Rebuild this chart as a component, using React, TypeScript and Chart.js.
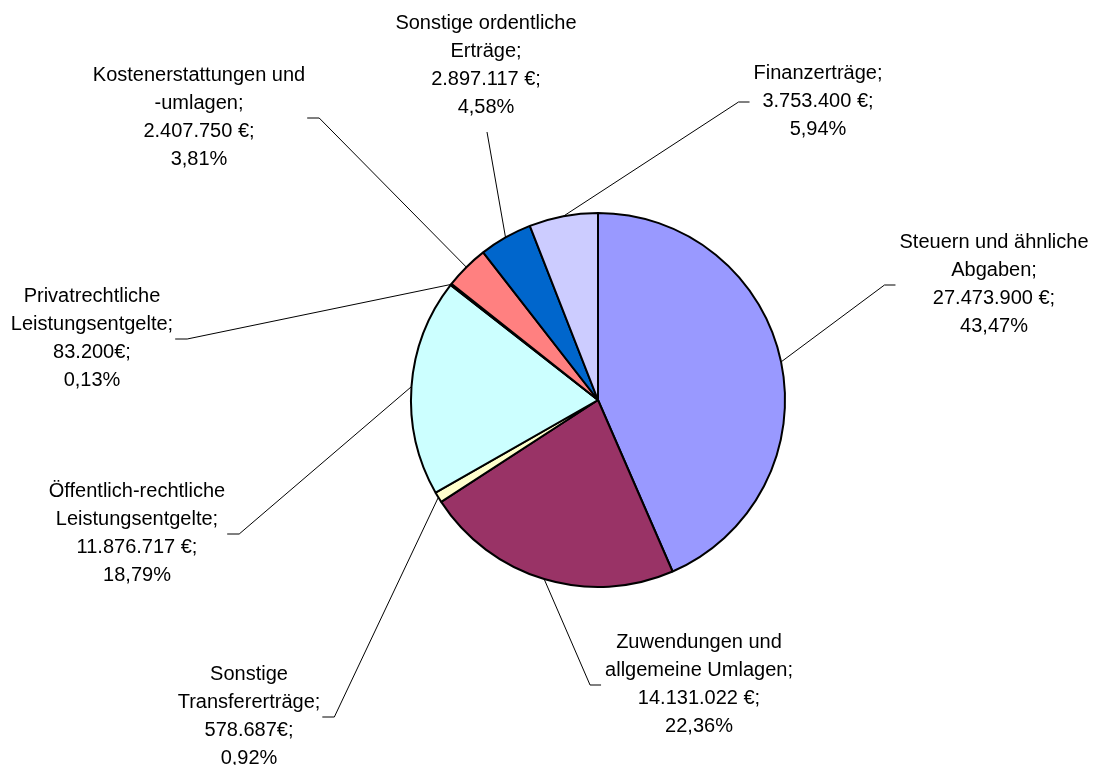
import React, { useEffect, useRef } from "react";
import { Chart, registerables } from "chart.js";

Chart.register(...registerables);

// ---- data ----
const categories = [
  "Steuern und ähnliche Abgaben",
  "Zuwendungen und allgemeine Umlagen",
  "Sonstige Transfererträge",
  "Öffentlich-rechtliche Leistungsentgelte",
  "Privatrechtliche Leistungsentgelte",
  "Kostenerstattungen und -umlagen",
  "Sonstige ordentliche Erträge",
  "Finanzerträge",
];
const values = [27473900, 14131022, 578687, 11876717, 83200, 2407750, 2897117, 3753400];
const valueLabels = [
  "27.473.900 €;",
  "14.131.022 €;",
  "578.687€;",
  "11.876.717 €;",
  "83.200€;",
  "2.407.750 €;",
  "2.897.117 €;",
  "3.753.400 €;",
];
const percentLabels = ["43,47%", "22,36%", "0,92%", "18,79%", "0,13%", "3,81%", "4,58%", "5,94%"];
const nameLines = [
  ["Steuern und ähnliche", "Abgaben;"],
  ["Zuwendungen und", "allgemeine Umlagen;"],
  ["Sonstige", "Transfererträge;"],
  ["Öffentlich-rechtliche", "Leistungsentgelte;"],
  ["Privatrechtliche", "Leistungsentgelte;"],
  ["Kostenerstattungen und", "-umlagen;"],
  ["Sonstige ordentliche", "Erträge;"],
  ["Finanzerträge;"],
];
const colors = ["#9999FF", "#993366", "#FFFFCC", "#CCFFFF", "#660066", "#FF8080", "#0066CC", "#CCCCFF"];

// ---- label layout (text block centre x, first baseline y, side of leader) ----
const labelCx = [994, 699, 249, 137, 92, 199, 486, 818];
const labelTop = [248, 648, 680, 497, 302, 81, 29, 79];
const labelSide = ["right", "right", "left", "left", "left", "left", "bottom", "right"];

const FONT = '20px "Liberation Sans", Arial, sans-serif';
const LINE_H = 28;

const labelPlugin = {
  id: "pieLabels",
  afterDatasetsDraw(chart: any) {
    const ctx = chart.ctx;
    const meta = chart.getDatasetMeta(0);
    ctx.save();
    ctx.font = FONT;
    ctx.fillStyle = "#000";
    ctx.strokeStyle = "#000";
    ctx.lineWidth = 1;
    ctx.textAlign = "center";
    ctx.textBaseline = "alphabetic";
    meta.data.forEach((arc: any, i: number) => {
      const p = arc.getProps(["x", "y", "startAngle", "endAngle", "outerRadius"], true);
      const mid = (p.startAngle + p.endAngle) / 2;
      const px = p.x + Math.cos(mid) * p.outerRadius;
      const py = p.y + Math.sin(mid) * p.outerRadius;
      const lines = [...nameLines[i], valueLabels[i], percentLabels[i]];
      const cx = labelCx[i];
      const top = labelTop[i];
      let maxW = 0;
      lines.forEach((t) => (maxW = Math.max(maxW, ctx.measureText(t).width)));
      const midY = top + ((lines.length - 1) * LINE_H) / 2 - 5;
      ctx.beginPath();
      if (labelSide[i] === "right") {
        const endX = cx - maxW / 2 - 4;
        ctx.moveTo(endX, midY);
        ctx.lineTo(endX - 11, midY);
        ctx.lineTo(px, py);
      } else if (labelSide[i] === "left") {
        const endX = cx + maxW / 2 + 2;
        ctx.moveTo(endX, midY);
        ctx.lineTo(endX + 12, midY);
        ctx.lineTo(px, py);
      } else {
        const by = top + (lines.length - 1) * LINE_H + 19;
        ctx.moveTo(cx + 1, by);
        ctx.lineTo(px, py);
      }
      ctx.stroke();
      lines.forEach((t, k) => ctx.fillText(t, cx, top + k * LINE_H));
    });
    ctx.restore();
  },
};

export default function App() {
  const ref = useRef<HTMLCanvasElement | null>(null);
  useEffect(() => {
    if (!ref.current) return;
    const chart = new Chart(ref.current, {
      type: "pie",
      data: {
        labels: categories,
        datasets: [
          {
            data: values,
            backgroundColor: colors,
            borderColor: "#000",
            borderWidth: 2,
          },
        ],
      },
      options: {
        responsive: false,
        animation: false,
        radius: 187,
        layout: { padding: { left: 203, right: 100, top: 135, bottom: 100 } },
        plugins: {
          legend: { display: false },
          tooltip: { enabled: false },
        },
      } as any,
      plugins: [labelPlugin],
    });
    return () => chart.destroy();
  }, []);
  return (
    <div style={{ position: "absolute", left: 0, top: 0, width: 1093, height: 765, background: "#fff" }}>
      <canvas ref={ref} width={1093} height={765} style={{ width: 1093, height: 765 }} />
    </div>
  );
}
